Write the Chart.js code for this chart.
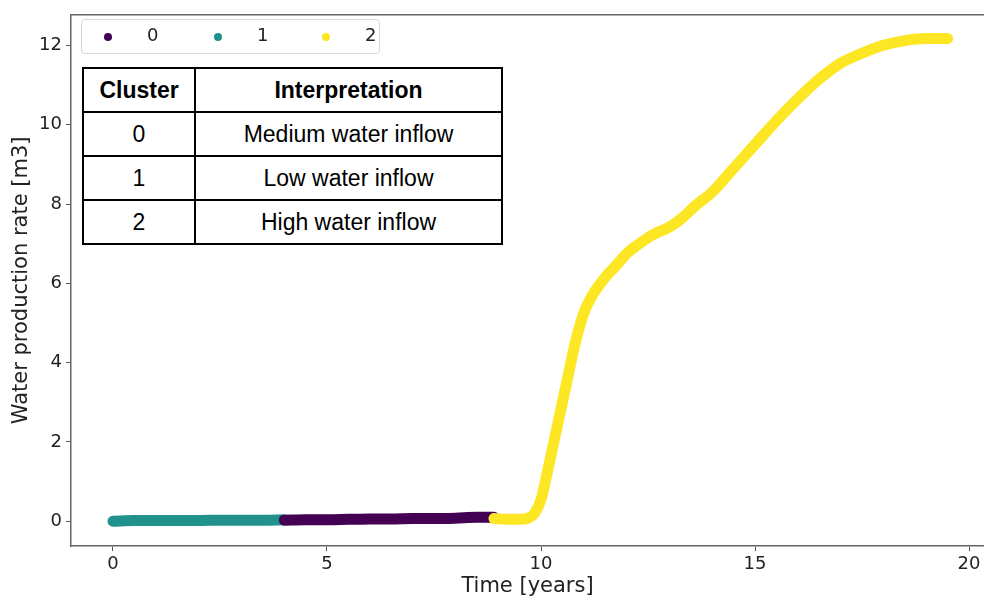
<!DOCTYPE html>
<html>
<head>
<meta charset="utf-8">
<script src="https://cdn.jsdelivr.net/npm/chart.js@4.4.1/dist/chart.umd.min.js"></script>
<style>
body { margin: 0; background: #fff; }
#wrap { position: relative; width: 984px; height: 599px; }
#legendBox {
  position: absolute; left: 81px; top: 19px; width: 297px; height: 33px;
  border: 1px solid #d6d6d6; border-radius: 4px; background: rgba(255,255,255,0.85);
  font-family: "DejaVu Sans", sans-serif; font-size: 18px; color: #222;
}
#legendBox span.dot { position: absolute; top: 13px; width: 8px; height: 8px; border-radius: 50%; }
#legendBox span.lab { position: absolute; top: 4px; }
#clusterTable {
  position: absolute; left: 82px; top: 67px; border-collapse: collapse; background: #fff;
  font-family: "Liberation Sans", Arial, sans-serif; font-size: 23px; color: #000;
}
#clusterTable td, #clusterTable th { border: 2px solid #000; text-align: center; height: 42px; padding: 0; }
#clusterTable th { font-weight: bold; }
</style>
</head>
<body>
<div id="wrap">
  <canvas id="waterChart" width="984" height="599"></canvas>
  <div id="legendBox"></div>
  <table id="clusterTable"></table>
</div>
<script>
//cluster labels and colors (viridis)
const clusterNames = ['0', '1', '2'];
const clusterColors = ['#440154', '#21918c', '#fde725'];

//table contents
const tableHeader = ['Cluster', 'Interpretation'];
const tableRows = [['0', 'Medium water inflow'], ['1', 'Low water inflow'], ['2', 'High water inflow']];

//time [years] and water production rate [m3]
const time0 = [4.0, 4.5, 5.0, 5.5, 6.0, 6.5, 7.0, 7.5, 8.0, 8.5, 8.9];
const rate0 = [0.03, 0.04, 0.04, 0.05, 0.06, 0.06, 0.07, 0.07, 0.08, 0.1, 0.1];

const time1 = [0.0, 0.5, 1.0, 1.5, 2.0, 2.5, 3.0, 3.5, 4.0];
const rate1 = [0.0, 0.02, 0.02, 0.02, 0.02, 0.03, 0.03, 0.03, 0.04];

const time2 = [8.9, 9.2, 9.5, 9.7, 9.85, 10.0, 10.2, 10.4, 10.6, 10.8, 11.0, 11.2, 11.5, 11.8, 12.0, 12.3, 12.6, 13.0, 13.3, 13.6, 14.0, 14.5, 15.0, 15.5, 16.0, 16.5, 17.0, 17.5, 18.0, 18.5, 19.0, 19.5];
const rate2 = [0.07, 0.05, 0.05, 0.08, 0.2, 0.55, 1.5, 2.5, 3.5, 4.5, 5.25, 5.7, 6.15, 6.5, 6.75, 7.0, 7.22, 7.42, 7.65, 7.95, 8.3, 8.9, 9.5, 10.1, 10.65, 11.15, 11.55, 11.8, 12.0, 12.12, 12.17, 12.17];

const xTicks = [0, 5, 10, 15, 20];
const yTicks = [0, 2, 4, 6, 8, 10, 12];

function toPoints(xs, ys){
    return xs.map((x, i) => ({x: x, y: ys[i]}));
}

//legend
const legendBox = document.getElementById('legendBox');
const dotLeft = [22, 132, 240];
clusterNames.forEach(function(name, i){
    const dot = document.createElement('span');
    dot.className = 'dot';
    dot.style.left = dotLeft[i] + 'px';
    dot.style.background = clusterColors[i];
    legendBox.appendChild(dot);
    const lab = document.createElement('span');
    lab.className = 'lab';
    lab.style.left = (dotLeft[i] + 43) + 'px';
    lab.textContent = name;
    legendBox.appendChild(lab);
});

//table
const table = document.getElementById('clusterTable');
let html = '<tr><th style="width:110px">' + tableHeader[0] + '</th><th style="width:305px">' + tableHeader[1] + '</th></tr>';
tableRows.forEach(function(r){
    html += '<tr><td>' + r[0] + '</td><td>' + r[1] + '</td></tr>';
});
table.innerHTML = html;

//top frame line
const frameLine = {
    id: 'frameLine',
    afterDraw(chart){
        const c = chart.ctx, a = chart.chartArea;
        c.save();
        c.strokeStyle = '#666';
        c.lineWidth = 1.5;
        c.beginPath();
        c.moveTo(a.left, a.top);
        c.lineTo(a.right, a.top);
        c.stroke();
        c.restore();
    }
};

function makeSet(label, data, color, order){
    return {
        label: label,
        data: data,
        borderColor: color,
        backgroundColor: color,
        showLine: true,
        borderWidth: 11,
        borderCapStyle: 'round',
        borderJoinStyle: 'round',
        cubicInterpolationMode: 'monotone',
        pointRadius: 0,
        order: order
    };
}

const tickFont = {family: 'DejaVu Sans', size: 18};
const titleFont = {family: 'DejaVu Sans', size: 21};

new Chart(document.getElementById('waterChart'), {
    type: 'scatter',
    data: {
        datasets: [
            makeSet(clusterNames[0], toPoints(time0, rate0), clusterColors[0], 1),
            makeSet(clusterNames[1], toPoints(time1, rate1), clusterColors[1], 2),
            makeSet(clusterNames[2], toPoints(time2, rate2), clusterColors[2], 0)
        ]
    },
    options: {
        responsive: false,
        animation: false,
        layout: {padding: {top: 8, right: 0, left: 0, bottom: 0}},
        plugins: {legend: {display: false}, tooltip: {enabled: false}},
        scales: {
            x: {
                type: 'linear',
                min: -0.981,
                max: 20.35,
                afterBuildTicks: s => { s.ticks = xTicks.map(v => ({value: v})); },
                afterFit: s => { s.height = 53; },
                grid: {drawOnChartArea: false, tickLength: 5, color: '#555'},
                border: {color: '#666', width: 1.5},
                ticks: {font: tickFont, color: '#222', padding: 3, maxRotation: 0},
                title: {display: true, text: 'Time [years]', font: titleFont, color: '#222', padding: {top: 0, bottom: 0}}
            },
            y: {
                type: 'linear',
                min: -0.622,
                max: 12.77,
                afterBuildTicks: s => { s.ticks = yTicks.map(v => ({value: v})); },
                afterFit: s => { s.width = 71; },
                grid: {drawOnChartArea: false, tickLength: 5, color: '#555'},
                border: {color: '#666', width: 1.5},
                ticks: {font: tickFont, color: '#222', padding: 4},
                title: {display: true, text: 'Water production rate [m3]', font: titleFont, color: '#222', padding: {top: 9, bottom: 0}}
            }
        }
    },
    plugins: [frameLine]
});
</script>
</body>
</html>
